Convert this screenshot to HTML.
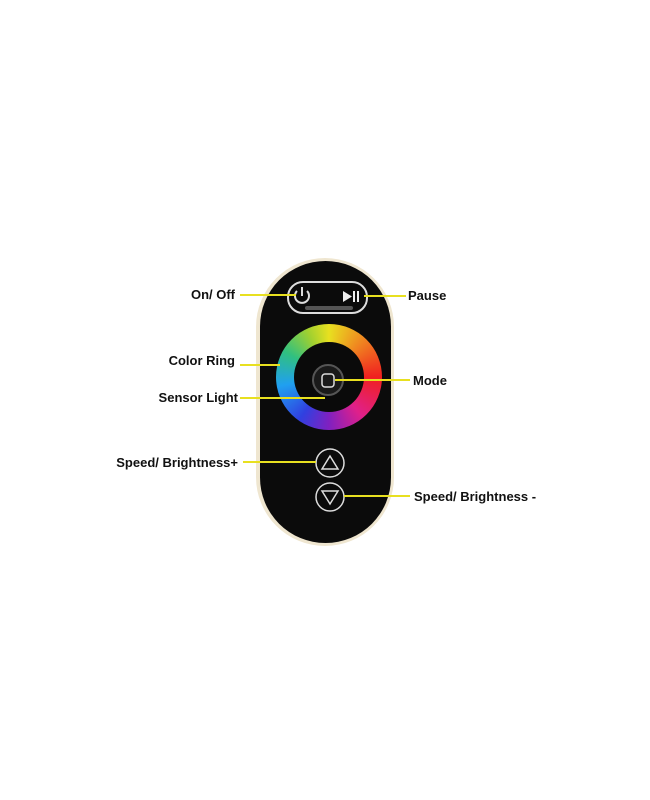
<!DOCTYPE html>
<html><head><meta charset="utf-8"><style>
body{margin:0;width:650px;height:800px;background:#fff;position:relative;overflow:hidden;font-family:"Liberation Sans",sans-serif}
.a{position:absolute}
.ring{left:276px;top:324px;width:106px;height:106px;border-radius:50%;background:conic-gradient(#e8e020 0deg,#f08020 45deg,#f02020 90deg,#e0208a 140deg,#8020c0 180deg,#3040e0 215deg,#20a0f0 260deg,#30c080 300deg,#a0d030 335deg,#e8e020 360deg)}
.hole{left:294px;top:342px;width:70px;height:70px;border-radius:50%;background:#0a0a0a}
.lbl{position:absolute;font-weight:bold;font-size:13px;color:#111;line-height:14px}
</style></head><body>
<div class="a" style="left:256px;top:258px;width:138px;height:288px;border-radius:69px;background:#efe6d0"></div>
<div class="a" style="left:260px;top:261px;width:131px;height:282px;border-radius:66px;background:#0b0b0b"></div>
<div class="ring a"></div>
<div class="hole a"></div>
<svg class="a" style="left:0;top:0" width="650" height="800">
<rect x="288" y="282" width="79" height="31" rx="15" fill="none" stroke="#ddd" stroke-width="2"/>
<rect x="305" y="306" width="48" height="4" rx="2" fill="#555"/>
<path d="M297 291 A7 7 0 1 0 307 291" fill="none" stroke="#ddd" stroke-width="2"/>
<line x1="302" y1="287" x2="302" y2="296" stroke="#ddd" stroke-width="2"/>
<polygon points="343,291 343,302 352,296.5" fill="#eee"/>
<rect x="353" y="291" width="2" height="11" fill="#eee"/><rect x="357" y="291" width="2" height="11" fill="#eee"/>
<circle cx="328" cy="380" r="15" fill="#1a1a1a" stroke="#555" stroke-width="2"/>
<rect x="322" y="374" width="12" height="13" rx="3" fill="none" stroke="#ddd" stroke-width="1.5"/>
<circle cx="330" cy="463" r="14" fill="none" stroke="#ddd" stroke-width="1.5"/>
<polygon points="330,456 322,469 338,469" fill="none" stroke="#ddd" stroke-width="1.5"/>
<circle cx="330" cy="497" r="14" fill="none" stroke="#ddd" stroke-width="1.5"/>
<polygon points="322,491 338,491 330,504" fill="none" stroke="#ddd" stroke-width="1.5"/>
<g stroke="#e8e020" stroke-width="2">
<line x1="240" y1="295" x2="296" y2="295"/>
<line x1="364" y1="296" x2="406" y2="296"/>
<line x1="240" y1="365" x2="280" y2="365"/>
<line x1="240" y1="398" x2="325" y2="398"/>
<line x1="335" y1="380" x2="410" y2="380"/>
<line x1="243" y1="462" x2="316" y2="462"/>
<line x1="344" y1="496" x2="410" y2="496"/>
</g>
</svg>
<div class="lbl" style="right:415px;top:288px">On/ Off</div>
<div class="lbl" style="left:408px;top:289px">Pause</div>
<div class="lbl" style="right:415px;top:354px">Color Ring</div>
<div class="lbl" style="right:412px;top:391px">Sensor Light</div>
<div class="lbl" style="left:413px;top:374px">Mode</div>
<div class="lbl" style="right:412px;top:456px">Speed/ Brightness+</div>
<div class="lbl" style="left:414px;top:490px">Speed/ Brightness -</div>
</body></html>
